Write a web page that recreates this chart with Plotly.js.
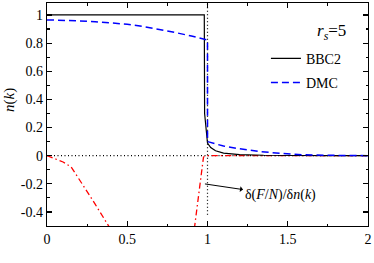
<!DOCTYPE html>
<html>
<head>
<meta charset="utf-8">
<script src="https://cdn.plot.ly/plotly-3.0.1.min.js"></script>
<style>html,body{margin:0;padding:0;background:#fff;}#chart{width:374px;height:263px;}</style>
</head>
<body>
<div id="chart"></div>
<script>
// BBC2 momentum distribution
const kBBC2 = [0, 0.5, 0.98, 0.982, 0.995, 1.0, 1.02, 1.05, 1.1, 1.2, 1.35, 1.5, 1.75, 2.0];
const nBBC2 = [1, 1, 1, 0.3, 0.12, 0.09, 0.058, 0.035, 0.018, 0.008, 0.003, 0.001, 0, 0];
// DMC momentum distribution
const kDMC = [0, 0.1, 0.2, 0.3, 0.4, 0.5, 0.6, 0.7, 0.8, 0.9, 1.0, 1.0, 1.04, 1.1, 1.18, 1.26, 1.33, 1.45, 1.6, 1.8, 2.0];
const nDMC = [0.965, 0.963, 0.958, 0.952, 0.944, 0.934, 0.918, 0.898, 0.875, 0.85, 0.822, 0.1, 0.085, 0.068, 0.052, 0.038, 0.028, 0.017, 0.006, 0.002, 0];
// functional derivative delta(F/N)/delta n(k)
const kDeriv = [0, 0.05, 0.1, 0.15, 0.2, 0.25, 0.3, 0.35, 0.395, null, 0.918, 0.95, 0.975, 0.99, 1.0, 1.5, 2.0];
const dDeriv = [0, -0.02, -0.045, -0.08, -0.165, -0.255, -0.345, -0.435, -0.52, null, -0.52, -0.24, -0.01, 0, 0, 0, 0];
// reference lines: k = kF and zero
const kFLineX = [1, 1];
const kFLineY = [-0.42, 1.085];
const zeroLineX = [0, 2];
const zeroLineY = [0, 0];
// tick labels
const xTickVals = [0, 0.5, 1, 1.5, 2];
const xTickText = ['0', '0.5', '1', '1.5', '2'];
const yTickVals = [-0.4, -0.2, 0, 0.2, 0.4, 0.6, 0.8, 1];
const yTickText = ['-0.4', '-0.2', '0', '0.2', '0.4', '0.6', '0.8', '1'];

const FONT = 'Liberation Serif, DejaVu Serif, Times, serif';

const traces = [
  {x: zeroLineX, y: zeroLineY, mode: 'lines', showlegend: false, hoverinfo: 'skip',
   line: {color: 'black', width: 1.2, dash: '1px,2.5px'}},
  {x: kFLineX, y: kFLineY, mode: 'lines', showlegend: false, hoverinfo: 'skip',
   line: {color: 'black', width: 1.2, dash: '1px,2.5px'}},
  {x: kDeriv, y: dDeriv, mode: 'lines', showlegend: false, connectgaps: false,
   line: {color: '#ff0000', width: 1.3, dash: '6px,3px,1.5px,3px'}},
  {x: kBBC2, y: nBBC2, mode: 'lines', name: 'BBC2', legendgroup: 'a',
   line: {color: 'black', width: 1.2}},
  {x: kDMC, y: nDMC, mode: 'lines', name: 'DMC', legendgroup: 'b',
   line: {color: '#0000ff', width: 1.5, dash: '7px,4px'}}
];

const axisCommon = {
  showline: true, linecolor: 'black', linewidth: 1.2, mirror: 'allticks',
  ticks: 'inside', ticklen: 5, tickwidth: 1.2, tickcolor: 'black',
  showgrid: false, zeroline: false,
  tickfont: {family: FONT, size: 14, color: 'black'}
};

const layout = {
  width: 374, height: 263,
  margin: {l: 47, r: 6, t: 3, b: 37},
  paper_bgcolor: 'white', plot_bgcolor: 'white',
  font: {family: FONT, size: 14, color: 'black'},
  xaxis: Object.assign({}, axisCommon, {
    range: [0, 2], tickvals: xTickVals, ticktext: xTickText,
    minor: {dtick: 0.25, ticks: 'inside', ticklen: 2.5, tickwidth: 1.2, tickcolor: 'black', showgrid: false}
  }),
  yaxis: Object.assign({}, axisCommon, {
    range: [-0.5, 1.085], tickvals: yTickVals, ticktext: yTickText,
    minor: {dtick: 0.1, tick0: 0, ticks: 'inside', ticklen: 2.5, tickwidth: 1.2, tickcolor: 'black', showgrid: false}
  }),
  showlegend: true,
  legend: {x: 0.682, y: 0.822, xanchor: 'left', yanchor: 'top', bgcolor: 'rgba(0,0,0,0)',
    font: {family: FONT, size: 14, color: 'black'}, traceorder: 'grouped', tracegroupgap: 3},
  annotations: [
    {xref: 'x', yref: 'y', x: 1.875, y: 0.88, xanchor: 'right', yanchor: 'middle', showarrow: false,
     text: '<i>r</i><sub><i>s</i></sub>=5', font: {family: FONT, size: 17, color: 'black'}},
    {xref: 'x', yref: 'y', x: 0.984, y: -0.201, axref: 'x', ayref: 'y', ax: 1.452, ay: -0.28,
     text: 'δ(<i>F</i>/<i>N</i>)/δ<i>n</i>(<i>k</i>)', font: {family: FONT, size: 14, color: 'black'},
     showarrow: true, arrowside: 'start', arrowhead: 2, arrowsize: 1, arrowwidth: 1, arrowcolor: 'black',
     standoff: 0, startstandoff: 0},
    {xref: 'paper', yref: 'y', x: -0.115, y: 0.396, xanchor: 'center', yanchor: 'middle', showarrow: false,
     textangle: -90, text: '<i>n</i>(<i>k</i>)', font: {family: FONT, size: 15, color: 'black'}},
    {xref: 'x', yref: 'y', x: 1.0, y: -0.677, xanchor: 'center', yanchor: 'middle', showarrow: false,
     text: '<i>k</i> / <i>k</i><sub>F</sub>', font: {family: FONT, size: 15, color: 'black'}}
  ]
};

Plotly.newPlot('chart', traces, layout, {staticPlot: true, displayModeBar: false});
</script>
</body>
</html>
